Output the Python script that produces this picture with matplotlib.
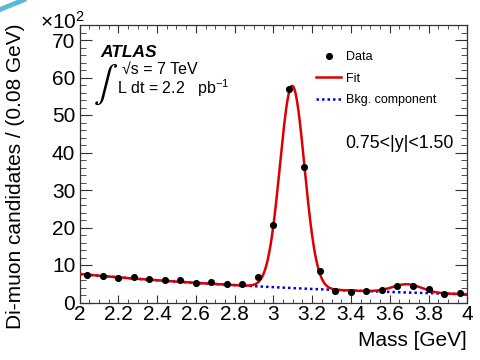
import numpy as np
import matplotlib
matplotlib.use("Agg")
import matplotlib.pyplot as plt
from matplotlib.lines import Line2D
from matplotlib.ticker import MultipleLocator

plt.rcParams['font.family'] = ['Liberation Sans', 'DejaVu Sans']
plt.rcParams['mathtext.fontset'] = 'custom'
plt.rcParams['mathtext.rm'] = 'Liberation Sans'
plt.rcParams['mathtext.it'] = 'Liberation Sans:italic'

# di-muon mass spectrum, 0.08 GeV bins, counts in units of 10^2
bin_width = 0.08
mass_lo, mass_hi = 2.0, 4.0
counts = [7.25, 6.97, 6.53, 6.80, 6.35, 6.00, 6.08, 5.20, 5.55, 4.85,
          5.00, 6.70, 20.6, 56.9, 36.05, 8.50, 3.15, 2.80, 2.98, 3.25,
          4.40, 4.50, 3.60, 2.27, 2.60]

# fit parameters: exponential background + J/psi and psi(2S) gaussians
bkg_norm, bkg_slope = 7.6, 0.62
jpsi_amp, jpsi_mass, jpsi_sigma = 53.95, 3.097, 0.063
psi2s_amp, psi2s_mass, psi2s_sigma = 2.2, 3.69, 0.075

centers = mass_lo + bin_width * (np.arange(len(counts)) + 0.5)
m = np.linspace(mass_lo, mass_hi, 600)
bkg = bkg_norm * np.exp(-bkg_slope * (m - mass_lo))
fit = (bkg
       + jpsi_amp * np.exp(-0.5 * ((m - jpsi_mass) / jpsi_sigma) ** 2)
       + psi2s_amp * np.exp(-0.5 * ((m - psi2s_mass) / psi2s_sigma) ** 2))

W, H = 481, 360
fig = plt.figure(figsize=(W / 100, H / 100), dpi=100)
ax = fig.add_axes([79.5 / W, 1 - 302.5 / H, (467.3 - 79.5) / W, (302.5 - 25) / H])

bkg_line, = ax.plot(m, bkg, color='#0000ee', lw=1.8, ls=(0, (1, 1.2)), zorder=2,
                    label='Bkg. component')
fit_line, = ax.plot(m, fit, color='#dd0000', lw=1.8, zorder=3, label='Fit')
data_pts, = ax.plot(centers, counts, 'o', color='black', ms=4.1, zorder=4,
                    label='Data')

ax.set_xlim(mass_lo, mass_hi)
ax.set_ylim(0, 74)
ax.xaxis.set_minor_locator(MultipleLocator(0.05))
ax.yaxis.set_major_locator(MultipleLocator(10))
ax.yaxis.set_minor_locator(MultipleLocator(2))
ax.set_xticks(np.arange(2.0, 4.01, 0.2))
ax.set_xticklabels(['2', '2.2', '2.4', '2.6', '2.8', '3', '3.2', '3.4', '3.6', '3.8', '4'])
ax.tick_params(axis='both', which='both', direction='in', top=True, right=True,
               colors='#333333', labelcolor='black', labelsize=15)
ax.tick_params(axis='x', which='major', length=5.8, pad=2)
ax.tick_params(axis='x', which='minor', length=2.9)
ax.tick_params(axis='y', which='major', length=8.4, pad=3)
ax.tick_params(axis='y', which='minor', length=4.2)
for sp in ax.spines.values():
    sp.set_linewidth(0.9)
    sp.set_color('#333333')

ax.set_xlabel('Mass [GeV]', fontsize=15, ha='right', va='center')
ax.xaxis.set_label_coords((466.5 - 79.5) / 387.8, -(340 - 302.5) / 277.5)
ax.set_ylabel('Di-muon candidates / (0.08 GeV)', fontsize=15, va='center')
ax.yaxis.set_label_coords(-(79.5 - 15) / 387.8, (302.5 - 176) / 277.5)

fig.text(40 / W, 1 - 29 / H, r'$\times10^{2}$', fontsize=15, va='baseline')

ax.legend(handles=[data_pts, fit_line, bkg_line], loc='upper left',
          bbox_to_anchor=(316 / W, 1 - 51 / H), bbox_transform=fig.transFigure,
          frameon=False, fontsize=9, borderpad=0, borderaxespad=0,
          handlelength=2.0, handletextpad=0.4, labelspacing=0.78, numpoints=1)

fig.text(100 / W, 1 - 57 / H, 'ATLAS', fontsize=12.5, fontweight='bold',
         fontstyle='italic', va='baseline')
# thin integral sign for the luminosity line
fig.text(106 / W, 1 - 85 / H, r'$\int$', fontsize=26, math_fontfamily='stix',
         ha='center', va='center')
fig.text(122 / W, 1 - 74 / H, '\u221as = 7 TeV', fontsize=11.5, va='baseline')
fig.text(117 / W, 1 - 94 / H, r'L dt = 2.2   pb$^{-1}$', fontsize=11.5, va='baseline')
fig.text(345 / W, 1 - 148 / H, '0.75<|y|<1.50', fontsize=12.8, va='baseline')

fig.add_artist(Line2D([-0.005, 28 / W], [1 - 10.5 / H, 1.005], color='#5bb8d6',
                      lw=3.5, solid_capstyle='butt'))

fig.savefig('out.png', dpi=100)
